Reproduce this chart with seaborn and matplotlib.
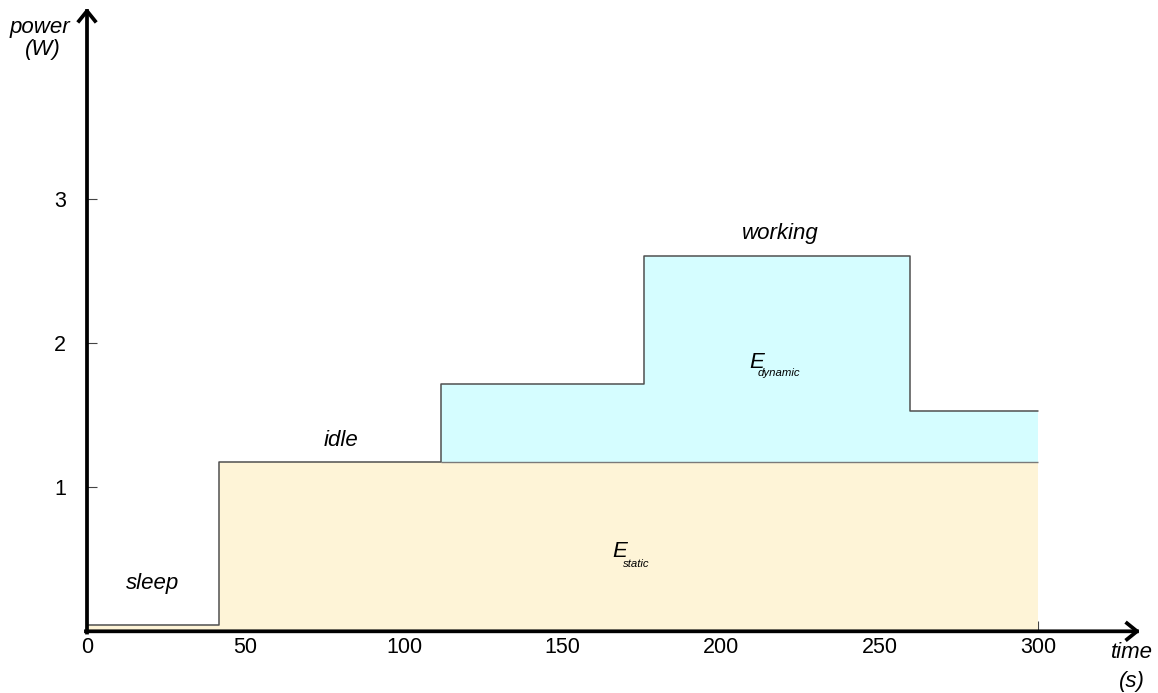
import matplotlib
matplotlib.use("Agg")
import matplotlib.pyplot as plt
import seaborn as sns
import numpy as np

# ---- data ----
time_edges = [0, 41.6, 111.6, 175.6, 259.5, 300]
power_levels = [0.042, 1.176, 1.715, 2.606, 1.53]
static_levels = [0.042, 1.176, 1.176, 1.176, 1.176]
static_base = 1.176
x_ticks = [0, 50, 100, 150, 200, 250, 300]
y_ticks = [1, 2, 3]

sns.set_style("white")
plt.rcParams['font.family'] = ['Liberation Sans', 'DejaVu Sans']
plt.rcParams['text.color'] = 'black'

W, H = 1158, 693
fig = plt.figure(figsize=(W / 100, H / 100), dpi=100)
x0_px, x1_px = 87, 1140
y0_px, y1_px = 631.3, 8
ax = fig.add_axes([x0_px / W, (H - y0_px) / H, (x1_px - x0_px) / W, (y0_px - y1_px) / H])
ax.set_xlim(0, (x1_px - x0_px) / 3.17)
ax.set_ylim(0, (y0_px - y1_px) / 144.0)

cream = '#fef4d7'
cyan = '#d5fdff'
line_col = '#505050'

x_step = time_edges
y_power = power_levels + [power_levels[-1]]
y_static = static_levels + [static_levels[-1]]

# static energy fill
ax.fill_between(x_step, 0, y_static, step='post', color=cream, lw=0, zorder=1)
# dynamic energy fill
ax.fill_between(x_step[2:], static_base, y_power[2:], step='post', color=cyan, lw=0, zorder=1)

# step line
sns.lineplot(x=x_step, y=y_power, drawstyle='steps-post', estimator=None, sort=False,
             color=line_col, lw=1.1, ax=ax, zorder=3)
ax.hlines(static_base, time_edges[2], time_edges[-1], color='#7a7a7a', lw=1.0, zorder=2)

# axes styling
for s in ['left', 'bottom', 'top', 'right']:
    ax.spines[s].set_visible(False)

ax.set_xticks(x_ticks)
ax.set_xticklabels([str(v) for v in x_ticks])
ax.set_yticks(y_ticks)
ax.set_yticklabels([str(v) for v in y_ticks])
ax.tick_params(axis='x', direction='in', length=7.5, width=0.8, color='#444444',
               labelsize=15.5, pad=4, labelcolor='black', bottom=True)
ax.tick_params(axis='y', direction='in', length=7.5, width=0.8, color='#444444',
               labelsize=15.5, pad=15, labelcolor='black', left=True)
ax.grid(False)

arrow_kw = dict(arrowstyle='->,head_length=0.36,head_width=0.29', lw=2.7, color='black',
                shrinkA=0, shrinkB=0, mutation_scale=20, capstyle='projecting')
ax.annotate('', xy=(1, 0), xytext=(-0.001, 0), xycoords='axes fraction',
            textcoords='axes fraction', arrowprops=arrow_kw, annotation_clip=False, zorder=5)
ax.annotate('', xy=(0, 1), xytext=(0, -0.002), xycoords='axes fraction',
            textcoords='axes fraction', arrowprops=arrow_kw, annotation_clip=False, zorder=5)

fs = 16
def px2data(px, py):
    return (px - 87) / 3.17, (631.3 - py) / 144.0

# axis labels
for txt, (px, py) in [('power', (40, 28)), ('(W)', (42.5, 50)),
                      ('time', (1131.7, 653)), ('(s)', (1131.7, 681))]:
    dx, dy = px2data(px, py)
    ax.text(dx, dy, txt, ha='center', va='center', fontsize=fs, style='italic',
            color='black', clip_on=False)

# phase labels
for txt, (px, py) in [('sleep', (153, 584)), ('idle', (340.8, 440)), ('working', (780, 234))]:
    dx, dy = px2data(px, py)
    ax.text(dx, dy, txt, ha='center', va='center', fontsize=fs, style='italic', color='black')

# energy labels
dx, dy = px2data(756.7, 368.3)
ax.text(dx, dy, 'E', ha='center', va='baseline', fontsize=fs, style='italic', color='black', zorder=4)
dx, dy = px2data(779, 376.5)
ax.text(dx, dy, 'dynamic', ha='center', va='baseline', fontsize=8.2, style='italic', color='black', zorder=4)
dx, dy = px2data(620, 557.3)
ax.text(dx, dy, 'E', ha='center', va='baseline', fontsize=fs, style='italic', color='black', zorder=4)
dx, dy = px2data(636.7, 567.3)
ax.text(dx, dy, 'static', ha='center', va='baseline', fontsize=8.2, style='italic', color='black', zorder=4)

ax.set_xlabel('')
ax.set_ylabel('')
fig.savefig('out.png', dpi=100)
